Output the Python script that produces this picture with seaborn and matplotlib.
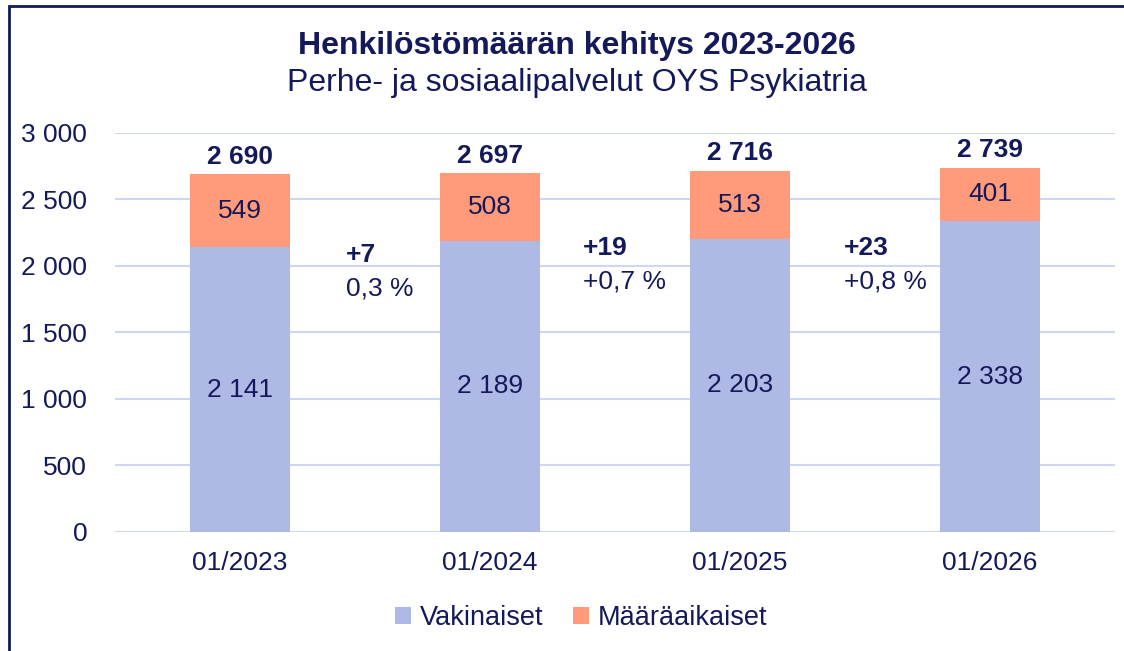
import matplotlib
matplotlib.use("Agg")
import matplotlib.pyplot as plt
import seaborn as sns
import pandas as pd
from matplotlib.ticker import FuncFormatter
from matplotlib.patches import Rectangle

# data
periods = ["01/2023", "01/2024", "01/2025", "01/2026"]
vakinaiset = [2141, 2189, 2203, 2338]
maaraaikaiset = [549, 508, 513, 401]
muutos = [7, 19, 23]
muutos_pct = ["0,3 %", "+0,7 %", "+0,8 %"]

navy = "#14195A"
c_vak = "#AEB9E6"
c_maa = "#FF9A7A"
grid_c = "#CFD6F2"

sns.set_theme(style="white")
plt.rcParams["font.family"] = ["Liberation Sans", "DejaVu Sans"]

def fi(v):
    return f"{int(v):,}".replace(",", " ")

df = pd.DataFrame({"period": periods, "Vakinaiset": vakinaiset, "Määräaikaiset": maaraaikaiset})
df["total"] = df["Vakinaiset"] + df["Määräaikaiset"]

fig = plt.figure(figsize=(11.24, 6.51), dpi=100)
ax = fig.add_axes([0.1023, 0.1828, 0.8897, 0.6129])

sns.barplot(data=df, x="period", y="Vakinaiset", color=c_vak, width=0.4,
            saturation=1, linewidth=0, ax=ax, label="Vakinaiset", zorder=3)
sns.barplot(data=df, x="period", y="Määräaikaiset", bottom=df["Vakinaiset"],
            color=c_maa, width=0.4, saturation=1, linewidth=0, ax=ax,
            label="Määräaikaiset", zorder=3)

ax.set_ylim(0, 3000)
ax.set_xlim(-0.5, 3.5)
ax.set_yticks(range(0, 3001, 500))
ax.yaxis.set_major_formatter(FuncFormatter(lambda v, p: fi(v)))
ax.grid(axis="y", color=grid_c, linewidth=1.5, zorder=0)
ax.set_axisbelow(True)
for s in ax.spines.values():
    s.set_visible(False)
ax.set_xlabel("")
ax.set_ylabel("")
ax.tick_params(axis="both", length=0, labelsize=19, labelcolor=navy)
ax.tick_params(axis="y", pad=20)
ax.tick_params(axis="x", pad=14)

for i, row in df.iterrows():
    ax.text(i, row["Vakinaiset"] / 2, fi(row["Vakinaiset"]), ha="center", va="center",
            fontsize=19, color=navy, zorder=4)
    ax.text(i, row["Vakinaiset"] + row["Määräaikaiset"] / 2, fi(row["Määräaikaiset"]),
            ha="center", va="center", fontsize=19, color=navy, zorder=4)
    ax.annotate(fi(row["total"]), (i, row["total"]), xytext=(0, 4), textcoords="offset points",
                ha="center", va="bottom", fontsize=19, fontweight="bold", color=navy)

# change annotations between the bars
ann_x = [0.424, 1.372, 2.416]
ann_y = [2083, 2135, 2135]
for k in range(3):
    ax.text(ann_x[k], ann_y[k], f"+{muutos[k]}", ha="left", va="center",
            fontsize=19, fontweight="bold", color=navy)
    ax.text(ann_x[k], ann_y[k] - 250, muutos_pct[k],
            ha="left", va="center", fontsize=19, color=navy)

fig.text(0.513, 0.930, "Henkilöstömäärän kehitys 2023-2026", ha="center", va="center",
         fontsize=23, fontweight="bold", color=navy)
fig.text(0.513, 0.873, "Perhe- ja sosiaalipalvelut OYS Psykiatria", ha="center", va="center",
         fontsize=23, color=navy)

leg = ax.legend(loc="center", bbox_to_anchor=(0.466, -0.2155), ncol=2, frameon=False,
                fontsize=19.5, handlelength=0.6, handleheight=0.6, handletextpad=0.3,
                columnspacing=1.1)
for t in leg.get_texts():
    t.set_color(navy)

fig.patches.append(Rectangle((9 / 1124, -0.01), 1.05, 1 - 6 / 651 + 0.01, transform=fig.transFigure,
                             fill=False, edgecolor=navy, linewidth=2, figure=fig))

fig.savefig("out.png", dpi=100)
